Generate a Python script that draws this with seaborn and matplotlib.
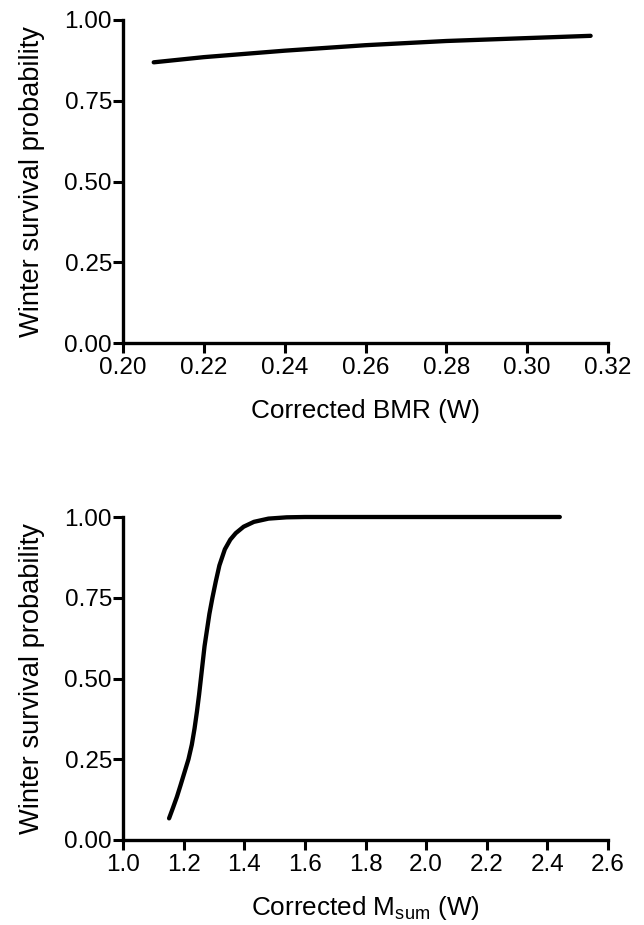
import matplotlib
matplotlib.use("Agg")
import matplotlib.pyplot as plt
import seaborn as sns
import pandas as pd

# ---- data ----
bmr_x = [0.2076, 0.22, 0.24, 0.26, 0.28, 0.30, 0.3157]
bmr_y = [0.869, 0.885, 0.905, 0.922, 0.935, 0.944, 0.951]

msum_x = [1.152, 1.165, 1.178, 1.190, 1.203, 1.216, 1.227, 1.236, 1.244, 1.251,
          1.257, 1.263, 1.269, 1.277, 1.285, 1.295, 1.306, 1.318, 1.336, 1.354,
          1.372, 1.398, 1.432, 1.480, 1.540, 1.600, 2.441]
msum_y = [0.067, 0.100, 0.134, 0.170, 0.210, 0.250, 0.295, 0.345, 0.398, 0.450,
          0.500, 0.550, 0.600, 0.650, 0.700, 0.750, 0.800, 0.850, 0.900, 0.930,
          0.950, 0.970, 0.985, 0.995, 0.999, 1.000, 1.000]

bmr_ticks = [0.20, 0.22, 0.24, 0.26, 0.28, 0.30, 0.32]
msum_ticks = [1.0, 1.2, 1.4, 1.6, 1.8, 2.0, 2.2, 2.4, 2.6]
y_ticks = [0.00, 0.25, 0.50, 0.75, 1.00]

ylab = "Winter survival probability"
xlab_top = "Corrected BMR (W)"
xlab_bot = r"Corrected M$_{\mathrm{sum}}$ (W)"

sns.set_style("ticks")
plt.rcParams["font.family"] = ["Liberation Sans", "DejaVu Sans"]
plt.rcParams["mathtext.fontset"] = "custom"
plt.rcParams["mathtext.rm"] = "Liberation Sans"
plt.rcParams["mathtext.it"] = "Liberation Sans:italic"
plt.rcParams["mathtext.bf"] = "Liberation Sans:bold"

W, H = 644, 925
fig = plt.figure(figsize=(W / 100, H / 100), dpi=100)
fig.patch.set_facecolor("white")

left, right = 123, 608
panels = [
    (20, 343, bmr_x, bmr_y, bmr_ticks, "{:.2f}", xlab_top, (0.20, 0.32)),
    (517, 840, msum_x, msum_y, msum_ticks, "{:.1f}", xlab_bot, (1.0, 2.6)),
]

for top, bot, xs, ys, xt, fmt, xl, xlim in panels:
    ax = fig.add_axes([left / W, 1 - bot / H, (right - left) / W, (bot - top) / H])
    df = pd.DataFrame({"x": xs, "y": ys})
    sns.lineplot(data=df, x="x", y="y", ax=ax, color="black", linewidth=3.1,
                 estimator=None, sort=False, solid_capstyle="round",
                 solid_joinstyle="round", clip_on=False)
    ax.set_xlim(*xlim)
    ax.set_ylim(0, 1)
    ax.set_xticks(xt)
    ax.set_xticklabels([fmt.format(v) for v in xt])
    ax.set_yticks(y_ticks)
    ax.set_yticklabels(["{:.2f}".format(v) for v in y_ticks])
    for s in ["top", "right"]:
        ax.spines[s].set_visible(False)
    for s in ["left", "bottom"]:
        ax.spines[s].set_linewidth(2.4)
        ax.spines[s].set_color("black")
        ax.spines[s].set_capstyle("projecting")
    ax.tick_params(axis="both", direction="out", length=7, width=2.2,
                   color="black", labelsize=17.5, labelcolor="black")
    ax.tick_params(axis="x", pad=3.0)
    ax.tick_params(axis="y", pad=1.0)
    ax.set_xlabel(xl, fontsize=18.8, color="black", va="baseline")
    ax.xaxis.set_label_coords(0.5, -75 / (bot - top))
    ax.set_ylabel(ylab, fontsize=19.6, color="black", va="center")
    ax.yaxis.set_label_coords((32 - left) / (right - left), 0.5)
    ax.set_facecolor("white")

fig.savefig("out.png", dpi=100, facecolor="white")
